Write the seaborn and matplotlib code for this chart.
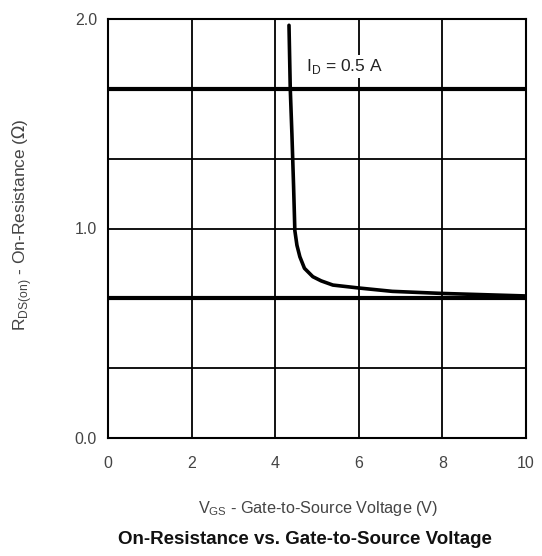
import numpy as np
import pandas as pd
import matplotlib
matplotlib.use("Agg")
import matplotlib.pyplot as plt
import seaborn as sns

# Data
vgs = [4.33, 4.36, 4.40, 4.44, 4.47, 4.52, 4.59, 4.70, 4.90, 5.10, 5.38, 6.0, 6.8, 8.0, 9.0, 10.0]
rds = [1.97, 1.67, 1.45, 1.20, 0.99, 0.92, 0.865, 0.81, 0.77, 0.75, 0.73, 0.716, 0.70, 0.69, 0.684, 0.678]
x_ticks = [0, 2, 4, 6, 8, 10]
y_ticks = [0.0, 1.0, 2.0]
y_tick_labels = ["0.0", "1.0", "2.0"]
grid_y = [1/3, 2/3, 1.0, 4/3, 5/3]
heavy_y = [2/3, 5/3]

sns.set_theme(style="white")
plt.rcParams['font.family'] = ['Liberation Sans', 'DejaVu Sans']

fig = plt.figure(figsize=(5.42, 5.56), dpi=100)
ax = fig.add_axes([108/542, 1 - 438/556, (526-108)/542, (438-19)/556])

df = pd.DataFrame({"VGS": vgs, "RDS": rds})

for gx in x_ticks[1:-1]:
    ax.axvline(gx, color="black", lw=1.3, zorder=1)
for gy in grid_y:
    lw = 3.0 if any(abs(gy - h) < 1e-6 for h in heavy_y) else 1.3
    ax.axhline(gy, color="black", lw=lw, zorder=1)

sns.lineplot(data=df, x="VGS", y="RDS", ax=ax, color="black", lw=2.6,
             sort=False, estimator=None, zorder=3)

ax.set_xlim(0, 10)
ax.set_ylim(0, 2)
ax.set_xticks(x_ticks)
ax.set_yticks(y_ticks)
ax.set_yticklabels(y_tick_labels)
ax.tick_params(axis="both", length=0, labelsize=11.5, labelcolor="#444444")
ax.tick_params(axis="x", pad=13)
ax.tick_params(axis="y", pad=8)
for s in ax.spines.values():
    s.set_color("black")
    s.set_linewidth(1.5)

ax.set_xlabel("")
ax.set_ylabel("")

ax.text(4.73, 1.775, r"I$_\mathregular{D}$ = 0.5 A", fontsize=12.5, color="#222222",
        va="center", ha="left", zorder=4,
        bbox=dict(facecolor="white", edgecolor="none", pad=1.5))

fig.text(318/542, 1 - 508/556, r"V$_\mathregular{GS}$ - Gate-to-Source Voltage (V)",
         ha="center", va="center", fontsize=11.7, color="#444444")
fig.text(22/542, 1 - 225/556, r"R$_\mathregular{DS(on)}$ - On-Resistance ($\Omega$)",
         ha="center", va="center", rotation=90, fontsize=12.5, color="#444444")
fig.text(305/542, 1 - 540/556, "On-Resistance vs. Gate-to-Source Voltage",
         ha="center", va="center", fontsize=13.5, fontweight="bold", color="#111111")

fig.savefig("out.png", dpi=100, facecolor="white")
